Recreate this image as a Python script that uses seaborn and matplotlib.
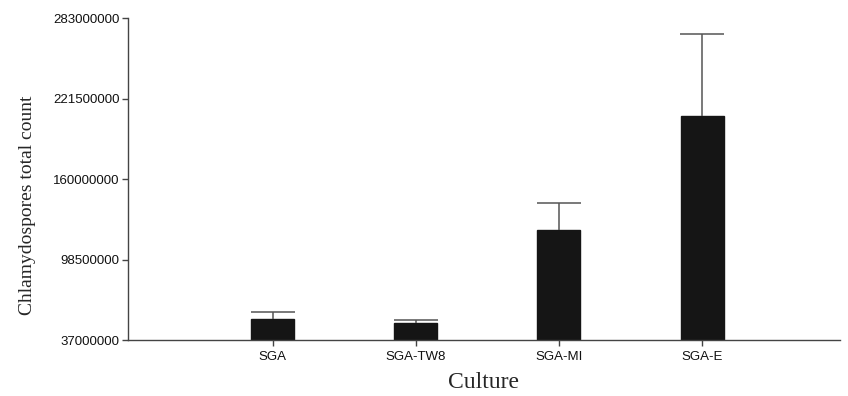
import numpy as np
import pandas as pd
import seaborn as sns
import matplotlib.pyplot as plt
from matplotlib.ticker import FuncFormatter

# Chart data
cultures = ["SGA", "SGA-TW8", "SGA-MI", "SGA-E"]
counts = [53000000, 50200000, 121000000, 208500000]
errors = [5200000, 2300000, 20700000, 62500000]
ytick_values = [37000000, 98500000, 160000000, 221500000, 283000000]

df = pd.DataFrame({"Culture": cultures, "Count": counts})

sns.set_style("white")
plt.rcParams['font.family'] = ['Liberation Sans', 'DejaVu Sans']

fig = plt.figure(figsize=(8.48, 3.96), dpi=100)
ax = fig.add_axes([0.151, 0.1414, 0.839, 0.8131])

sns.barplot(data=df, x="Culture", y="Count", color="#151515", saturation=1,
            width=0.3, errorbar=None, ax=ax)
for p in ax.patches:
    p.set_edgecolor("#151515")

# upward-only error bars, lower caps hidden
eb = ax.errorbar(np.arange(len(cultures)), counts,
                 yerr=[np.zeros(len(errors)), errors],
                 fmt="none", ecolor="#555555", elinewidth=1.1,
                 capsize=15.5, capthick=1.1, zorder=3)
eb[1][0].set_visible(False)

ax.set_ylim(ytick_values[0], ytick_values[-1])
ax.set_xlim(-1.01, 3.96)
ax.set_yticks(ytick_values)
ax.yaxis.set_major_formatter(FuncFormatter(lambda v, pos: f"{int(round(v))}"))

sns.despine(ax=ax)
for side in ["left", "bottom"]:
    ax.spines[side].set_color("#444444")
    ax.spines[side].set_linewidth(1.0)

ax.tick_params(axis="both", which="major", direction="out", length=4,
               width=1, color="#444444", labelsize=9.5, labelcolor="#111111",
               pad=2, left=True, bottom=True)
ax.tick_params(axis="x", pad=4)

ax.set_ylabel("Chlamydospores total count", family=["Liberation Serif", "DejaVu Serif"],
              fontsize=14)
ax.set_xlabel("Culture", family=["Liberation Serif", "DejaVu Serif"], fontsize=17)
ax.yaxis.set_label_coords(-0.129, 0.42)
ax.xaxis.set_label_coords(0.5, -0.098)

plt.savefig("out.png", dpi=100)
